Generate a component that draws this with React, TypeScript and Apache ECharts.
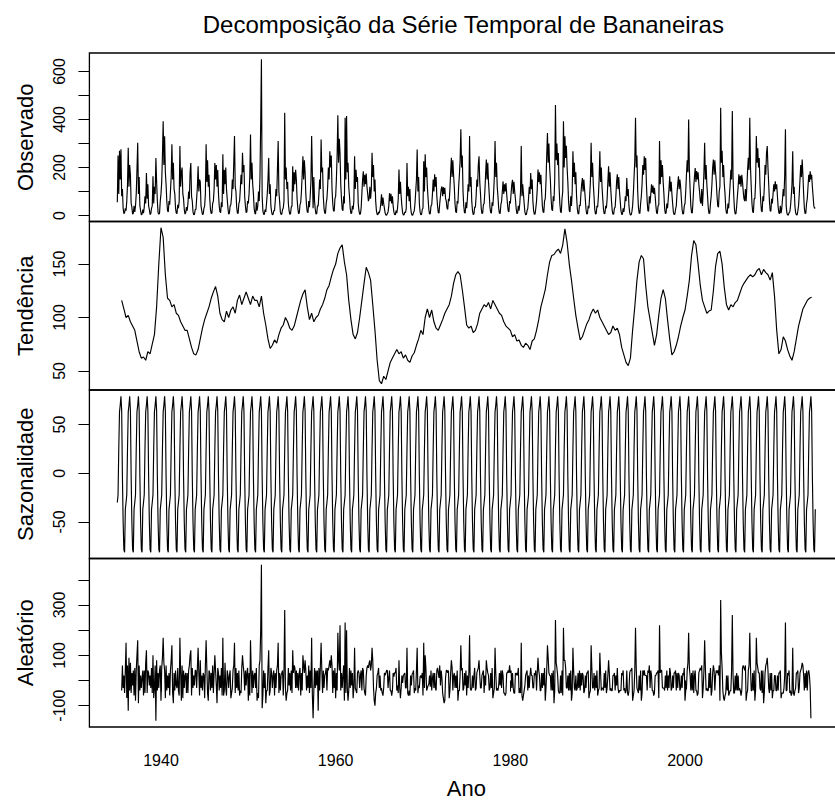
import React, { useEffect, useRef } from "react";
import * as echarts from "echarts";

// Série mensal de precipitação de Bananeiras: jan/1935 a dez/2014
const INICIO_OBS = 1935; // janeiro de 1935
const observado: number[] = [
  55, 250, 90, 270, 150, 276, 80, 110, 30, 8, 12, 30,
  20, 60, 130, 282, 120, 210, 170, 50, 35, 5, 10, 40,
  15, 40, 90, 190, 303, 90, 160, 40, 20, 2, 6, 25,
  10, 35, 80, 50, 177, 70, 130, 40, 25, 4, 8, 30,
  40, 163, 50, 120, 90, 240, 140, 60, 12, 5, 10, 60,
  90, 140, 250, 393, 210, 330, 180, 130, 60, 20, 15, 60,
  45, 100, 160, 297, 150, 220, 110, 90, 30, 10, 8, 45,
  30, 60, 289, 120, 180, 200, 90, 70, 25, 6, 12, 35,
  20, 50, 100, 70, 180, 219, 80, 60, 15, 3, 5, 25,
  25, 70, 120, 205, 100, 150, 140, 40, 20, 4, 6, 30,
  40, 90, 297, 140, 230, 120, 170, 70, 25, 8, 10, 50,
  60, 110, 219, 150, 210, 120, 190, 90, 40, 15, 12, 55,
  35, 255, 90, 190, 130, 200, 110, 70, 30, 6, 10, 40,
  45, 80, 150, 110, 220, 331, 120, 100, 35, 10, 8, 50,
  60, 110, 170, 130, 261, 180, 210, 80, 40, 12, 15, 60,
  50, 90, 160, 337, 150, 220, 130, 90, 30, 10, 6, 55,
  20, 40, 100, 60, 160, 386, 651, 80, 20, 5, 4, 25,
  15, 50, 90, 150, 240, 90, 130, 40, 15, 3, 5, 20,
  20, 60, 110, 80, 190, 310, 100, 60, 15, 4, 6, 25,
  30, 60, 428, 150, 200, 110, 140, 50, 20, 5, 8, 35,
  40, 205, 100, 180, 130, 190, 150, 70, 30, 8, 10, 45,
  55, 100, 170, 247, 150, 230, 180, 90, 40, 15, 12, 60,
  35, 80, 140, 331, 170, 30, 160, 60, 25, 6, 8, 40,
  40, 90, 150, 110, 317, 180, 200, 80, 30, 10, 8, 50,
  70, 120, 200, 150, 268, 200, 250, 110, 50, 20, 18, 70,
  80, 150, 250, 418, 220, 320, 260, 130, 70, 25, 20, 80,
  50, 407, 150, 414, 180, 220, 120, 80, 30, 8, 10, 40,
  25, 60, 247, 110, 190, 140, 160, 50, 20, 5, 6, 30,
  90, 150, 184, 120, 170, 130, 175, 120, 90, 60, 70, 120,
  70, 110, 261, 160, 210, 100, 150, 60, 20, 5, 3, 15,
  10, 25, 50, 88, 40, 75, 50, 30, 10, 2, 1, 8,
  15, 40, 93, 60, 90, 50, 80, 40, 15, 4, 3, 20,
  10, 30, 70, 192, 90, 140, 80, 40, 12, 2, 3, 15,
  12, 30, 219, 80, 120, 60, 110, 35, 10, 1, 2, 12,
  20, 50, 100, 150, 275, 100, 160, 50, 15, 3, 4, 25,
  30, 226, 100, 255, 160, 200, 120, 70, 25, 6, 8, 40,
  45, 90, 150, 100, 172, 120, 160, 80, 40, 12, 10, 50,
  80, 110, 121, 80, 118, 90, 115, 70, 60, 30, 25, 70,
  60, 110, 180, 240, 160, 230, 170, 120, 50, 15, 12, 60,
  50, 120, 170, 230, 359, 200, 250, 100, 40, 12, 10, 55,
  30, 70, 130, 100, 331, 120, 160, 60, 20, 4, 6, 35,
  35, 80, 150, 120, 210, 247, 140, 90, 30, 8, 10, 45,
  50, 100, 170, 233, 150, 220, 140, 90, 35, 12, 10, 55,
  40, 90, 160, 310, 160, 220, 120, 80, 30, 10, 8, 45,
  60, 100, 142, 90, 130, 100, 135, 90, 50, 20, 15, 60,
  50, 90, 130, 149, 90, 140, 100, 70, 30, 8, 10, 40,
  20, 50, 100, 289, 80, 130, 90, 50, 15, 3, 4, 20,
  30, 70, 120, 90, 177, 110, 150, 60, 20, 5, 6, 30,
  60, 110, 192, 140, 180, 130, 170, 100, 40, 15, 12, 60,
  70, 140, 250, 344, 220, 300, 200, 150, 70, 25, 20, 80,
  60, 150, 460, 230, 300, 210, 260, 120, 50, 15, 12, 70,
  100, 393, 200, 330, 240, 290, 200, 140, 60, 20, 15, 80,
  40, 100, 268, 160, 220, 130, 180, 80, 30, 8, 6, 45,
  40, 90, 130, 156, 100, 150, 110, 70, 25, 6, 8, 40,
  30, 80, 140, 303, 160, 220, 130, 80, 25, 6, 8, 40,
  35, 80, 150, 268, 140, 200, 120, 70, 25, 7, 9, 40,
  30, 70, 140, 205, 120, 180, 110, 60, 20, 5, 6, 30,
  35, 80, 140, 172, 110, 160, 100, 60, 20, 5, 4, 30,
  15, 40, 80, 60, 156, 80, 110, 40, 12, 2, 3, 15,
  40, 90, 160, 230, 407, 200, 250, 100, 35, 10, 8, 50,
  80, 130, 210, 170, 247, 190, 240, 130, 60, 20, 18, 80,
  50, 90, 130, 95, 125, 90, 115, 80, 40, 10, 8, 40,
  45, 310, 130, 230, 160, 210, 140, 90, 30, 8, 10, 50,
  30, 70, 110, 163, 100, 140, 90, 50, 15, 4, 5, 25,
  40, 90, 130, 163, 110, 150, 120, 70, 25, 6, 8, 40,
  50, 100, 170, 230, 180, 400, 190, 110, 40, 12, 10, 60,
  120, 160, 198, 140, 185, 150, 180, 130, 100, 60, 50, 110,
  40, 100, 180, 303, 150, 210, 130, 80, 30, 8, 10, 50,
  80, 130, 200, 233, 170, 230, 180, 140, 80, 40, 35, 100,
  120, 449, 220, 270, 160, 210, 130, 90, 30, 10, 8, 50,
  30, 80, 130, 190, 150, 435, 160, 80, 25, 6, 8, 40,
  80, 120, 172, 130, 165, 120, 170, 140, 100, 70, 60, 110,
  60, 120, 190, 240, 190, 407, 200, 120, 50, 15, 12, 70,
  70, 140, 331, 220, 280, 200, 240, 130, 60, 20, 15, 80,
  60, 120, 210, 170, 260, 289, 200, 130, 60, 20, 18, 70,
  50, 90, 130, 100, 142, 110, 130, 80, 35, 10, 8, 40,
  10, 30, 70, 110, 80, 170, 359, 40, 10, 2, 2, 12,
  15, 40, 80, 130, 268, 90, 120, 40, 12, 3, 2, 18,
  40, 90, 150, 210, 160, 233, 170, 90, 30, 8, 10, 50,
  70, 120, 170, 140, 184, 150, 170, 120, 80, 40, 30, 33,
];

// Componente sazonal: um valor por mês (jan..dez), repetido a cada ano
const sazonalMensal: number[] = [-30, -22, 25, 63, 70, 79, 64, -3, -50, -78, -81, -37];

// Tendência (média móvel), trimestral a partir de jul/1935
const INICIO_TEND = 1935.5;
const PASSO_TEND = 0.25;
const tendencia: number[] = [
  116, 108,
  100, 102, 96, 92,
  88, 78, 68, 62,
  63, 60, 68, 66,
  75, 84, 110, 150,
  184, 175, 140, 118,
  116, 110, 112, 104,
  102, 96, 92, 88,
  88, 80, 72, 66,
  65, 70, 80, 90,
  98, 104, 110, 118,
  124, 129, 120, 104,
  98, 96, 106, 100,
  107, 110, 104, 116,
  121, 112, 118, 124,
  118, 112, 120, 116,
  116, 110, 120, 104,
  93, 80, 71, 74,
  79, 76, 84, 90,
  93, 100, 96, 90,
  88, 92, 100, 108,
  116, 122, 126, 110,
  98, 104, 96, 100,
  102, 108, 112, 118,
  126, 130, 138, 145,
  150, 160, 165, 168,
  152, 140, 116, 98,
  84, 80, 86, 100,
  116, 132, 147, 142,
  135, 112, 88, 60,
  41, 38, 45, 42,
  50, 58, 62, 66,
  70, 66, 68, 62,
  65, 60, 58, 64,
  67, 74, 80, 88,
  84, 100, 108, 100,
  107, 96, 90, 88,
  93, 98, 104, 108,
  112, 120, 132, 140,
  143, 140, 126, 110,
  93, 90, 92, 86,
  88, 94, 104, 108,
  112, 110, 114, 108,
  116, 112, 108, 104,
  102, 96, 92, 90,
  88, 82, 84, 78,
  79, 74, 72, 76,
  74, 70, 78, 80,
  88, 98, 110, 118,
  126, 140, 152, 158,
  159, 162, 164, 160,
  168, 183, 170, 150,
  135, 118, 102, 90,
  79, 82, 88, 94,
  98, 104, 108, 104,
  107, 100, 96, 92,
  88, 84, 86, 92,
  88, 90, 84, 72,
  65, 58, 55, 62,
  88, 110, 135, 152,
  158, 155, 130, 110,
  98, 86, 74, 84,
  102, 118, 126, 118,
  98, 80, 65, 68,
  74, 82, 92, 100,
  107, 120, 135, 158,
  172, 168, 150, 130,
  116, 110, 104, 106,
  107, 125, 148, 160,
  162, 150, 128, 112,
  107, 112, 110, 114,
  116, 122, 128, 132,
  135, 138, 140, 138,
  140, 144, 146, 140,
  145, 142, 140, 135,
  142, 120, 88, 66,
  70, 82, 78, 70,
  64, 60, 68, 80,
  92, 100, 108, 112,
  116, 118, 119,
];

// Componente aleatório, mensal de jul/1935 a jun/2014
const INICIO_ALEA = 1935.5;
const aleatorio: number[] = [
  -40, 60, -30, 20, -50, 40,
  150, -70, 60, -120, 90, -40, 70, -50, 30, -20, 40, -60,
  50, -80, 40, 100, 160, -90, 60, -40, 20, -30, 10, 40,
  -60, 40, -50, 70, 120, -50, 40, 30, -20, 20, -30, 50,
  -50, 100, -70, -30, 60, -160, 80, -40, 30, -30, 40, 60,
  -80, 50, 90, 170, 70, 40, -70, 60, -40, 20, -30, 30,
  -60, 40, 80, 140, -50, -90, 30, -40, 40, -20, -30, 50,
  -40, -60, 170, 30, -80, 60, -70, 40, -30, 20, 30, -50,
  30, -50, 40, 60, 100, 120, -60, 50, -30, 20, -20, 40,
  40, -30, 50, 130, 30, -60, 80, -30, 20, -40, 30, 20,
  -70, 60, 160, 50, -50, -80, 40, 30, -40, 30, -30, 60,
  -50, 30, 100, 40, -20, -90, 50, 30, -40, 20, -30, 50,
  -60, 170, -60, -40, 70, -30, -60, 40, 20, -30, 20, 40,
  -70, -50, -30, 40, 60, 150, -50, 50, -30, 30, -40, 40,
  -60, -40, -50, 50, 100, 60, 30, -40, 40, -20, 30, 50,
  -80, 30, -60, 160, 40, -50, 40, -30, 20, 30, -30, 50,
  -80, -50, -70, 60, 80, 200, 460, -110, -60, 40, -30, 30,
  -90, -40, -40, 50, 120, -60, -40, 50, 30, -30, 20, 40,
  -60, 30, -30, 40, 60, 150, -50, 30, -40, 20, 30, 40,
  -60, 40, 280, -30, -80, -50, -40, 50, -20, 30, -40, 40,
  -50, 120, 30, 60, 50, -30, 40, -30, 30, -40, 30, 50,
  -60, 30, -40, 100, 60, 30, 80, 40, -40, 20, -30, 60,
  -50, 40, -30, 170, -60, -150, -40, 50, -30, 40, -20, 40,
  -120, 50, -40, 60, 150, 40, -50, 40, -30, 20, 30, 50,
  -40, 50, 40, 60, 80, 50, 100, 60, -50, 40, -30, 50,
  -70, 30, -40, 190, 80, 40, 220, -40, 30, -30, 20, 60,
  -80, 230, -50, 200, -30, -80, -40, 50, -30, 40, -20, 30,
  -70, -30, 130, -30, -40, -50, 30, 40, 30, -30, 20, 40,
  -40, 50, 40, -30, -50, -60, 20, 50, 60, 50, 70, 80,
  40, 60, 130, 80, -30, -80, -100, -50, -30, 20, 30, 50,
  -30, 20, -40, -30, -50, -60, -30, 30, 20, 30, 40, 40,
  -30, 10, 40, -40, -40, -60, -40, 30, 15, 30, 30, 50,
  -40, -20, -50, 80, -30, -70, -30, 20, -10, 20, 25, 30,
  -30, -30, 130, -50, -60, -40, -60, 20, -20, 25, 30, 40,
  -50, -30, -40, 40, 130, -50, -20, -30, 15, 20, 10, 30,
  -60, 150, -30, 100, 50, -40, -30, -20, -15, 20, -25, 40,
  -40, 10, 30, -30, 30, -30, -40, 40, 50, 30, 10, 60,
  -20, 40, 10, -50, -70, -90, -80, 10, 40, 40, 30, 40,
  -70, -40, 30, 80, 50, -40, 20, 30, -30, 20, -30, 40,
  -80, -40, -40, 20, 140, 40, 50, -40, -30, 30, -20, 40,
  -60, 20, -30, 30, 180, -30, -40, -30, 20, -30, 20, 50,
  -40, -30, 30, 40, 50, 80, 20, -30, -30, 20, 30, 40,
  -50, 20, -20, 80, 50, 30, 20, -40, -30, 30, -30, 50,
  -70, -50, -30, 130, 30, -40, -30, -40, -20, 30, -20, 40,
  -30, 40, 20, -50, -50, -60, -50, 30, 30, 40, 30, 60,
  30, 40, -30, 30, -30, -50, -50, 30, 20, 30, 20, 50,
  -50, -30, -50, 150, -60, -80, -60, -40, -20, 20, 30, 40,
  -40, 20, -30, 20, 50, 20, 20, -30, -30, 30, 20, 40,
  -40, 30, 90, 40, 20, -40, -40, 30, -30, 30, -20, 50,
  -80, -30, 40, 140, 90, 30, 20, 20, -40, 30, -40, 40,
  -90, -40, 240, 70, 50, 20, -40, -50, -50, 20, -50, 40,
  -60, 210, 80, 80, 50, -30, -30, 20, -40, 30, -40, 40,
  -80, -50, 130, 40, -30, -40, 20, -40, -30, 30, -30, 40,
  -40, 30, -20, 30, 20, -50, -40, 20, -30, 30, 30, 40,
  -70, -50, -40, 140, 50, -30, -30, 30, -40, 20, -30, 40,
  -60, -40, -30, 110, 30, -40, -30, -30, -40, 30, -30, 40,
  -50, -30, 20, 80, 30, -40, -30, -40, -40, 20, 20, 30,
  -40, 20, -20, 50, -30, -50, -40, -40, -40, 30, 20, 40,
  -40, -30, -50, -40, 40, -50, -60, -40, 30, 40, 40, 50,
  -80, -60, -40, 40, 210, 50, -30, -40, -50, 20, -40, 40,
  -80, -50, 40, 20, 40, 20, 20, 20, -40, 40, 30, 60,
  -30, 40, 20, -40, -40, -60, -50, 20, 20, 30, 30, 40,
  -70, 220, 30, 40, 40, -30, -30, -30, -40, 20, -30, 40,
  -40, 20, -30, 50, 30, -40, -30, 20, -30, 30, 30, 40,
  -40, 30, -30, 30, 20, -40, -30, 20, -30, 30, 20, 50,
  -80, -40, -30, 40, 70, 190, 50, 20, -40, 30, -40, 40,
  -50, 20, 40, -40, -40, -60, -50, 30, 40, 50, 40, 60,
  -70, -30, 40, 160, 50, -40, -30, -40, -40, 30, -30, 50,
  -60, -40, 30, 60, 40, -40, 20, 40, 30, 40, 20, 60,
  -80, 320, 110, 50, -40, -70, -80, -60, -50, 20, -40, 20,
  -60, -50, -40, -40, 40, 260, 20, -50, -50, 20, -40, 30,
  -40, 20, -40, -30, -40, -60, -40, 50, 60, 50, 40, 60,
  -80, -50, -40, 40, 60, 190, 50, -40, -40, 30, -40, 40,
  -80, -40, 170, 70, 50, 30, 30, -30, -40, 40, -50, 40,
  -90, -50, 30, 60, 70, 90, 40, -30, -50, 30, -40, 30,
  -70, -40, -40, 20, 20, -40, -40, 20, -40, 30, 30, 40,
  -70, -50, -50, -50, -30, 20, 230, -40, -40, 30, 20, 40,
  -50, -40, -60, -50, 130, -50, -60, -40, -30, 30, 30, 40,
  -50, -30, 30, 40, 50, 70, 60, 20, -40, 30, -30, 40,
  -40, 30, 40, 20, -30, -150,
];

// Marcas dos eixos
const anosMarcados = [1940, 1960, 1980, 2000];
const marcasObs = [0, 100, 200, 300, 400, 500, 600];
const rotulosObs = [0, 200, 400, 600];
const marcasTend = [50, 100, 150];
const marcasSaz = [-50, 0, 50];
const marcasAlea = [-100, 0, 100, 200, 300, 400];
const rotulosAlea = [-100, 100, 300];

const titulos = ["Observado", "Tendência", "Sazonalidade", "Aleatório"];

const FONTE = "'Liberation Sans', Arial, Helvetica, sans-serif";

// Faixa com 4% de folga de cada lado
function faixa(v: number[]): [number, number] {
  let lo = Infinity;
  let hi = -Infinity;
  for (const x of v) {
    if (x < lo) lo = x;
    if (x > hi) hi = x;
  }
  const f = (hi - lo) * 0.04;
  return [lo - f, hi + f];
}

const semSeparador = (v: number) => String(v);

export default function App() {
  const ref = useRef<HTMLDivElement>(null);

  useEffect(() => {
    if (!ref.current) return;
    const chart = echarts.init(ref.current, null, { renderer: "svg" });

    const tObs = observado.map((_, i) => INICIO_OBS + i / 12);
    const sazonal = observado.map((_, i) => sazonalMensal[i % 12]);
    const serieObs = observado.map((v, i) => [tObs[i], v]);
    const serieSaz = sazonal.map((v, i) => [tObs[i], v]);
    const serieTend = tendencia.map((v, i) => [INICIO_TEND + i * PASSO_TEND, v]);
    const serieAlea = aleatorio.map((v, i) => [INICIO_ALEA + i / 12, v]);

    const [xMin, xMax] = faixa(tObs);
    const faixas = [faixa(observado), faixa(tendencia), faixa(sazonal), faixa(aleatorio)];
    const marcas = [marcasObs, marcasTend, marcasSaz, marcasAlea];
    const rotulos = [rotulosObs, marcasTend, marcasSaz, rotulosAlea];
    const dados = [serieObs, serieTend, serieSaz, serieAlea];

    const esquerda = 89.4;
    const largura = 753.8;
    const topos = [53, 221.5, 390, 558.5];
    const altura = 168.5;

    const grid = topos.map((top) => ({
      left: esquerda,
      width: largura,
      top,
      height: altura,
      show: true,
      borderColor: "#000",
      borderWidth: 1.3,
      backgroundColor: "transparent",
      outerBoundsMode: "none",
    }));

    const xAxis = topos.map((_, i) => {
      const ultimo = i === 3;
      return {
        type: "value",
        gridIndex: i,
        min: xMin,
        max: xMax,
        show: ultimo,
        axisLine: { show: false },
        splitLine: { show: false },
        axisTick: {
          show: ultimo,
          length: 11,
          customValues: anosMarcados,
          lineStyle: { color: "#000", width: 1 },
        },
        axisLabel: {
          show: ultimo,
          customValues: anosMarcados,
          formatter: semSeparador,
          fontSize: 16,
          margin: 25,
          color: "#000",
          fontFamily: FONTE,
        },
        name: ultimo ? "Ano" : "",
        nameLocation: "middle",
        nameGap: 50,
        nameTextStyle: { fontSize: 22, color: "#000", fontFamily: FONTE },
      };
    });

    const yAxis = topos.map((_, i) => ({
      type: "value",
      gridIndex: i,
      min: faixas[i][0],
      max: faixas[i][1],
      axisLine: { show: false },
      splitLine: { show: false },
      axisTick: {
        show: true,
        length: 11,
        customValues: marcas[i],
        lineStyle: { color: "#000", width: 1 },
      },
      axisLabel: {
        customValues: rotulos[i],
        formatter: semSeparador,
        rotate: 90,
        fontSize: 16,
        margin: 22,
        color: "#000",
        fontFamily: FONTE,
      },
      name: titulos[i],
      nameLocation: "middle",
      nameGap: 53,
      nameTextStyle: { fontSize: 22, color: "#000", fontFamily: FONTE },
    }));

    const series = dados.map((d, i) => ({
      type: "line",
      xAxisIndex: i,
      yAxisIndex: i,
      data: d,
      showSymbol: false,
      symbol: "none",
      clip: true,
      lineStyle: { color: "#000", width: 1.15 },
      emphasis: { disabled: true },
    }));

    chart.setOption({
      animation: false,
      backgroundColor: "#fff",
      grid,
      xAxis,
      yAxis,
      series,
      graphic: [
        {
          type: "text",
          x: esquerda + largura / 2 - 3,
          y: 24,
          style: {
            text: "Decomposição da Série Temporal de Bananeiras",
            fontSize: 24,
            fontFamily: FONTE,
            fill: "#000",
            align: "center",
            verticalAlign: "middle",
          },
        },
      ],
    });

    return () => chart.dispose();
  }, []);

  return (
    <div
      style={{
        position: "fixed",
        left: 0,
        top: 0,
        width: 835,
        height: 807,
        overflow: "hidden",
        background: "#fff",
      }}
    >
      <div ref={ref} style={{ width: 852, height: 807 }} />
    </div>
  );
}
